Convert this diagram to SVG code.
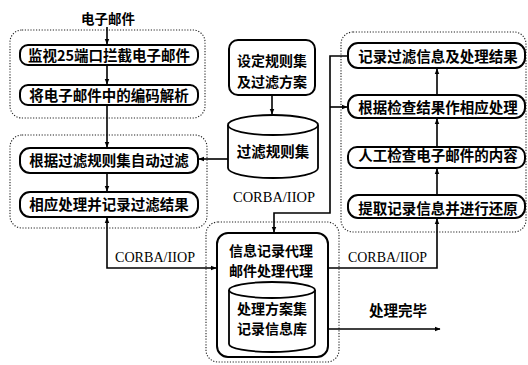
<svg xmlns="http://www.w3.org/2000/svg" width="528" height="365" viewBox="0 0 528 365">
<defs>
<style>
.grp{fill:none;stroke:#222;stroke-width:1.1;stroke-dasharray:1.2 1.6}
.box{fill:#fff;stroke:#000;stroke-width:2}
.cyl{fill:#fff;stroke:#000;stroke-width:1.8}
.t{font-family:"Noto Sans CJK SC","Noto Sans CJK JP",sans-serif;font-weight:bold;font-size:14.5px;fill:#000;text-anchor:middle}
.t2{font-size:14px}
.c{font-family:"Liberation Serif",serif;font-size:14px;fill:#000}
.ln{fill:none;stroke:#000;stroke-width:1.6}
</style>
<marker id="ah" viewBox="0 0 10 10" refX="9" refY="5" markerWidth="6" markerHeight="6" markerUnits="userSpaceOnUse" orient="auto-start-reverse">
<path d="M0,1 L10,5 L0,9 Z" fill="#000"/>
</marker>
</defs>
<rect width="528" height="365" fill="#fff"/>

<g id="groups">
<rect class="grp" x="10" y="30" width="195" height="88" rx="12"/>
<rect class="grp" x="10" y="135" width="197" height="93" rx="12"/>
<rect class="grp" x="341" y="32" width="185" height="200" rx="12"/>
<rect class="grp" x="206" y="222" width="133" height="140" rx="12"/>
</g>

<g id="connectors">
<path class="ln" d="M107,27 V44" marker-end="url(#ah)"/>
<path class="ln" d="M107,65 V84" marker-end="url(#ah)"/>
<path class="ln" d="M107,105 V147" marker-end="url(#ah)"/>
<path class="ln" d="M107,173 V191" marker-end="url(#ah)"/>
<path class="ln" d="M107,218 V268 H216" marker-start="url(#ah)" marker-end="url(#ah)"/>
<path class="ln" d="M272,95 V114" marker-end="url(#ah)"/>
<path class="ln" d="M228,159 H199" marker-end="url(#ah)"/>
<path class="ln" d="M274,232 V213 H330 V56 H348" marker-start="url(#ah)"/>
<path class="ln" d="M330,107 H347" marker-end="url(#ah)"/>
<path class="ln" d="M328,268 H437 V219" marker-end="url(#ah)"/>
<path class="ln" d="M437,195 V169" marker-end="url(#ah)"/>
<path class="ln" d="M437,147 V119" marker-end="url(#ah)"/>
<path class="ln" d="M437,95 V69" marker-end="url(#ah)"/>
<path class="ln" d="M328,329 H440" marker-end="url(#ah)"/>
<text class="c" x="115" y="262" textLength="80" lengthAdjust="spacingAndGlyphs">CORBA/IIOP</text>
<text class="c" x="233" y="202" textLength="82" lengthAdjust="spacingAndGlyphs">CORBA/IIOP</text>
<text class="c" x="348" y="262" textLength="79" lengthAdjust="spacingAndGlyphs">CORBA/IIOP</text>
<text class="t" x="398" y="316">处理完毕</text>
</g>

<g id="input">
<text class="t" x="108" y="24" style="font-size:13.5px">电子邮件</text>
</g>

<g id="n1">
<rect class="box" x="20" y="45" width="178" height="20" rx="8"/>
<text class="t" x="109" y="60.5">监视25端口拦截电子邮件</text>
</g>
<g id="n2">
<rect class="box" x="20" y="85" width="178" height="20" rx="8"/>
<text class="t" x="109" y="100.5">将电子邮件中的编码解析</text>
</g>
<g id="n3">
<rect class="box" x="20" y="148" width="178" height="25" rx="10"/>
<text class="t" x="109" y="166">根据过滤规则集自动过滤</text>
</g>
<g id="n4">
<rect class="box" x="20" y="192" width="178" height="25" rx="10"/>
<text class="t" x="109" y="210">相应处理并记录过滤结果</text>
</g>

<g id="rules">
<rect class="box" x="229" y="40" width="86" height="55" rx="9"/>
<text class="t t2" x="272" y="66">设定规则集</text>
<text class="t t2" x="272" y="87">及过滤方案</text>
</g>
<g id="ruleset">
<path class="cyl" d="M228,125 A45,10 0 0 1 318,125 V168 A45,10 0 0 1 228,168 Z"/>
<path class="cyl" d="M228,125 A45,10 0 0 0 318,125"/>
<text class="t" x="273" y="157">过滤规则集</text>
</g>

<g id="r1">
<rect class="box" x="348" y="43" width="177" height="25" rx="10"/>
<text class="t" x="438" y="61.5">记录过滤信息及处理结果</text>
</g>
<g id="r2">
<rect class="box" x="348" y="95" width="177" height="23" rx="10"/>
<text class="t" x="438" y="112.5">根据检查结果作相应处理</text>
</g>
<g id="r3">
<rect class="box" x="348" y="147" width="177" height="21" rx="9"/>
<text class="t" x="438" y="160.5">人工检查电子邮件的内容</text>
</g>
<g id="r4">
<rect class="box" x="348" y="195" width="177" height="23" rx="10"/>
<text class="t" x="438" y="213.5">提取记录信息并进行还原</text>
</g>

<g id="agent">
<rect class="box" x="217" y="233" width="111" height="124" rx="11"/>
<text class="t t2" x="271" y="255.5">信息记录代理</text>
<text class="t t2" x="271" y="276">邮件处理代理</text>
<path class="cyl" d="M229,290 A43,8 0 0 1 315,290 V344 A43,8 0 0 1 229,344 Z"/>
<path class="cyl" d="M229,290 A43,8 0 0 0 315,290"/>
<text class="t t2" x="272" y="313.5">处理方案集</text>
<text class="t t2" x="272" y="334">记录信息库</text>
</g>
</svg>
